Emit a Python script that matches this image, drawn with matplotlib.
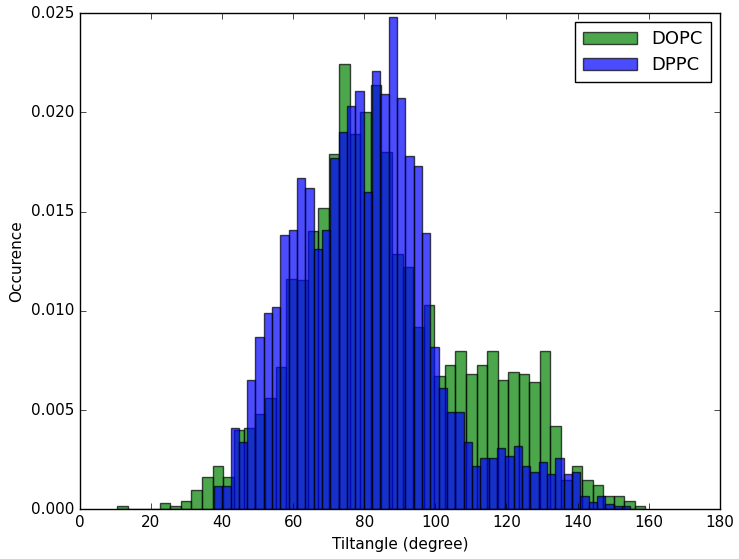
import matplotlib
matplotlib.use("Agg")
import matplotlib.pyplot as plt
import numpy as np

plt.style.use('classic')
plt.rcParams['font.size'] = 11

# bin ranges (degree), 50 bins each, normed histograms
dopc_range = (10.6, 159.1)
dppc_range = (37.7, 154.8)

dopc_density = [
    0.00017, 0.0, 0.0, 0.0, 0.00032, 0.00017, 0.00045, 0.00096, 0.00163, 0.00217,
    0.00166, 0.0040, 0.0041, 0.0048, 0.0056, 0.0072, 0.0116, 0.01154, 0.0140, 0.0152,
    0.0179, 0.02246, 0.0189, 0.0200, 0.0214, 0.0180, 0.01285, 0.0122, 0.0092, 0.0103,
    0.0067, 0.0073, 0.0080, 0.0068, 0.0073, 0.0080, 0.0065, 0.0069, 0.0068, 0.0064,
    0.0080, 0.0042, 0.0015, 0.00217, 0.0015, 0.00121, 0.00066, 0.00066, 0.00045, 0.00017,
]
dppc_density = [
    0.0012, 0.0012, 0.0041, 0.0034, 0.0065, 0.0087, 0.0099, 0.0102, 0.0138, 0.0141,
    0.01667, 0.0162, 0.0131, 0.0141, 0.0177, 0.0190, 0.0203, 0.0211, 0.0160, 0.0221,
    0.0209, 0.0248, 0.0207, 0.0178, 0.0173, 0.0139, 0.0082, 0.0061, 0.0049, 0.0049,
    0.0034, 0.0022, 0.0026, 0.0026, 0.0031, 0.0027, 0.0032, 0.0022, 0.0019, 0.0024,
    0.0018, 0.0026, 0.0018, 0.0019, 0.0007, 0.0004, 0.0007, 0.0003, 0.0002, 0.0002,
]

dopc_edges = np.linspace(dopc_range[0], dopc_range[1], len(dopc_density) + 1)
dppc_edges = np.linspace(dppc_range[0], dppc_range[1], len(dppc_density) + 1)

fig = plt.figure(figsize=(7.39, 5.59), dpi=100, facecolor='white')
ax = fig.add_axes([0.108, 0.0886, 0.866, 0.888])

ax.hist(dopc_edges[:-1], bins=dopc_edges, weights=dopc_density,
        color='g', edgecolor='k', linewidth=1, alpha=0.7, label='DOPC')
ax.hist(dppc_edges[:-1], bins=dppc_edges, weights=dppc_density,
        color='b', edgecolor='k', linewidth=1, alpha=0.7, label='DPPC')

ax.set_xlim(0, 180)
ax.set_ylim(0, 0.025)
ax.set_xticks(np.arange(0, 181, 20))
ax.set_yticks(np.arange(0, 0.0251, 0.005))
ax.set_xlabel('Tiltangle (degree)')
ax.set_ylabel('Occurence')
ax.legend(loc='upper right', fontsize=13, handlelength=3.0, borderpad=0.45,
          labelspacing=0.45)

fig.savefig('out.png', dpi=100, facecolor='white')
